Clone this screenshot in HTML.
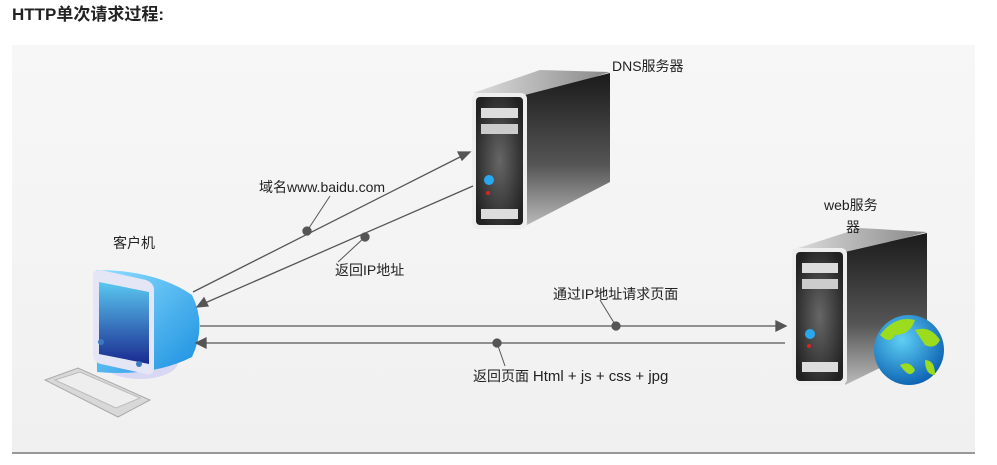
<!DOCTYPE html>
<html><head><meta charset="utf-8"><style>
body{margin:0;width:997px;height:465px;background:#fff;overflow:hidden;font-family:"Liberation Sans","Noto Sans CJK SC",sans-serif}
</style></head><body>
<svg width="997" height="465" xmlns="http://www.w3.org/2000/svg" style="position:absolute;left:0;top:0">
<defs>
<linearGradient id="bg" x1="0" y1="0" x2="0" y2="1"><stop offset="0" stop-color="#f7f7f7"/><stop offset="1" stop-color="#f0f0f0"/></linearGradient>
<linearGradient id="side" x1="0" y1="0" x2="0" y2="1"><stop offset="0" stop-color="#1a1a1a"/><stop offset="0.6" stop-color="#555"/><stop offset="1" stop-color="#bbb"/></linearGradient>
<linearGradient id="top" x1="0" y1="0" x2="1" y2="0"><stop offset="0" stop-color="#ddd"/><stop offset="1" stop-color="#888"/></linearGradient>
<radialGradient id="front" cx="0.5" cy="0.5" r="0.6"><stop offset="0" stop-color="#666"/><stop offset="1" stop-color="#222"/></radialGradient>
<linearGradient id="mon" x1="0" y1="0" x2="1" y2="1"><stop offset="0" stop-color="#8fe0ff"/><stop offset="1" stop-color="#1a8fe0"/></linearGradient>
<linearGradient id="scr" x1="0" y1="0" x2="0" y2="1"><stop offset="0" stop-color="#5ac8f0"/><stop offset="1" stop-color="#1a2a90"/></linearGradient>
<radialGradient id="globe" cx="0.4" cy="0.35" r="0.7"><stop offset="0" stop-color="#5fd0f5"/><stop offset="1" stop-color="#0a5fb0"/></radialGradient>
</defs>
<rect x="12" y="45" width="963" height="408" fill="url(#bg)"/>
<line x1="12" y1="453" x2="975" y2="453" stroke="#999" stroke-width="2"/>
<text x="12" y="20" font-size="17" font-weight="bold" fill="#222">HTTP单次请求过程:</text>

<!-- DNS server -->
<polygon points="473,93 540,70 610,72 540,95" fill="url(#top)"/>
<polygon points="525,95 610,73 610,182 525,226" fill="url(#side)"/>
<rect x="472" y="93" width="55" height="136" rx="6" fill="#eee"/>
<rect x="476" y="97" width="47" height="128" rx="4" fill="url(#front)"/>
<rect x="481" y="108" width="37" height="10" fill="#ddd"/>
<rect x="481" y="124" width="37" height="10" fill="#ccc"/>
<circle cx="489" cy="180" r="5" fill="#29a8f0"/>
<circle cx="488" cy="193" r="2" fill="#d22"/>
<rect x="481" y="209" width="37" height="10" fill="#ddd"/>
<text x="612" y="71" font-size="14" fill="#222">DNS服务器</text>

<!-- web server -->
<polygon points="792,250 860,228 927,232 850,253" fill="url(#top)"/>
<polygon points="845,252 927,233 927,345 845,385" fill="url(#side)"/>
<rect x="792" y="248" width="55" height="137" rx="6" fill="#eee"/>
<rect x="796" y="252" width="47" height="129" rx="4" fill="url(#front)"/>
<rect x="802" y="263" width="36" height="10" fill="#ddd"/>
<rect x="802" y="279" width="36" height="10" fill="#ccc"/>
<circle cx="810" cy="334" r="5" fill="#29a8f0"/>
<circle cx="809" cy="346" r="2" fill="#d22"/>
<rect x="802" y="362" width="36" height="10" fill="#ddd"/>
<circle cx="909" cy="350" r="35" fill="url(#globe)"/>
<path d="M880,335 q15,-20 35,-15 q-5,15 -20,15 q-5,10 -15,0z M915,330 q15,-5 25,10 q-5,10 -15,5z M900,365 q10,-5 15,5 q-5,10 -15,-5z M925,360 q10,0 10,15 q-10,0 -10,-15z" fill="#9bdc1e"/>
<text x="824" y="210" font-size="14" fill="#222">web服务</text>
<text x="846" y="232" font-size="14" fill="#222">器</text>

<!-- client -->
<ellipse cx="140" cy="362" rx="38" ry="17" fill="#d8d8f5"/>
<path d="M96,270 q60,0 96,25 q15,30 0,62 q-40,20 -95,15 z" fill="url(#mon)"/>
<path d="M93,275 q0,-5 8,-5 l45,10 q8,3 8,10 l0,78 q0,8 -8,6 l-45,-10 q-8,-2 -8,-10z" fill="#e4e6f5"/>
<path d="M99,282 l50,10 l0,72 l-50,-10z" fill="url(#scr)"/>
<circle cx="101" cy="342" r="3" fill="#3a7ac0"/>
<circle cx="139" cy="364" r="3" fill="#3a7ac0"/>
<polygon points="45,380 78,368 150,400 118,417" fill="#d8d8d8" stroke="#aaa"/>
<polygon points="55,380 80,372 140,398 116,408" fill="#eee" stroke="#bbb"/>
<text x="113" y="248" font-size="14" fill="#222">客户机</text>

<!-- connectors -->
<g stroke="#555" stroke-width="1.3" fill="#555">
<line x1="193" y1="292" x2="462" y2="156"/>
<polygon points="470,152 458,152 462,160"/>
<line x1="473" y1="186" x2="205" y2="303"/>
<polygon points="197,307 204,298 208,306"/>
<line x1="200" y1="326" x2="777" y2="326"/>
<polygon points="786,326 776,321 776,331"/>
<line x1="785" y1="343" x2="205" y2="343"/>
<polygon points="196,343 206,338 206,348"/>
<circle cx="307" cy="231" r="4"/>
<circle cx="365" cy="237" r="4"/>
<circle cx="616" cy="326" r="4"/>
<circle cx="497" cy="343" r="4"/>
<line x1="307" y1="231" x2="330" y2="196" stroke-width="1"/>
<line x1="365" y1="237" x2="338" y2="262" stroke-width="1"/>
<line x1="616" y1="326" x2="600" y2="300" stroke-width="1"/>
<line x1="497" y1="343" x2="505" y2="366" stroke-width="1"/>
</g>
<text x="259" y="192" font-size="14" fill="#222">域名www.baidu.com</text>
<text x="335" y="275" font-size="14" fill="#222">返回IP地址</text>
<text x="553" y="299" font-size="14" fill="#222">通过IP地址请求页面</text>
<text x="473" y="381" font-size="14" fill="#222">返回页面 <tspan font-size="15">Html + js + css + jpg</tspan></text>
</svg>
</body></html>
